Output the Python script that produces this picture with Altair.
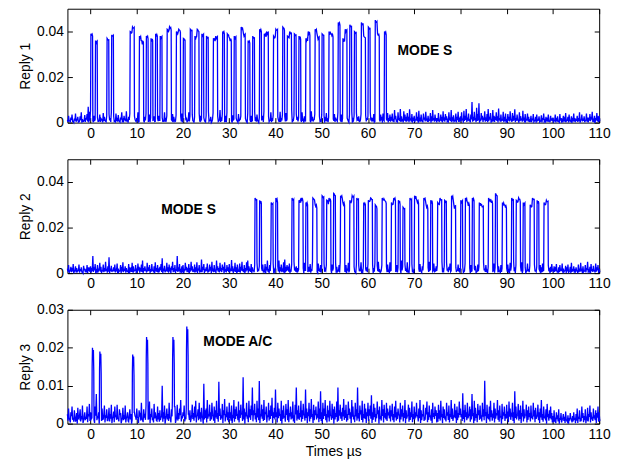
import altair as alt
import pandas as pd

# ---------------- data ----------------
T0 = -5.0        # first sample time of the noise records (µs)
DT = 0.25        # spacing of the noise samples (µs); troughs sit half way between

# baseline noise peaks, units of 1e-4, one row = 5 µs
noise1 = [
    12, 30, 8, 22, 35, 5, 18, 40, 10, 25, 3, 28, 45, 15, 6, 33, 20, 38, 70, 48,
    55, 20, 8, 30, 14, 40, 22, 5, 35, 18, 10, 42, 25, 6, 30, 12, 38, 20, 45, 15,
    28, 8, 40, 15, 33, 5, 22, 45, 12, 30, 18, 50, 10, 25, 40, 6, 35, 15, 28, 8,
    20, 45, 5, 30, 12, 55, 8, 25, 40, 15, 3, 35, 22, 48, 10, 28, 6, 42, 18, 30,
    10, 35, 22, 5, 45, 15, 30, 8, 50, 20, 12, 38, 25, 4, 33, 18, 55, 10, 28, 40,
    15, 5, 38, 22, 10, 45, 28, 12, 35, 6, 25, 50, 18, 8, 40, 30, 14, 48, 22, 5,
    30, 18, 48, 10, 25, 5, 42, 20, 12, 35, 28, 8, 55, 15, 38, 22, 5, 30, 45, 12,
    25, 40, 8, 32, 15, 50, 20, 6, 38, 12, 28, 45, 10, 35, 18, 3, 42, 25, 12, 30,
    8, 28, 45, 15, 35, 5, 22, 40, 12, 30, 50, 18, 6, 38, 25, 10, 45, 20, 32, 14,
    40, 12, 25, 5, 48, 20, 35, 10, 28, 42, 15, 6, 32, 22, 55, 12, 30, 8, 38, 18,
    22, 35, 10, 45, 18, 28, 5, 40, 15, 32, 8, 50, 25, 12, 38, 20, 6, 45, 28, 10,
    35, 8, 30, 18, 42, 12, 25, 48, 5, 28, 15, 38, 22, 10, 45, 30, 12, 35, 18, 52,
    12, 40, 20, 6, 35, 25, 48, 15, 30, 8, 42, 18, 28, 5, 38, 22, 50, 12, 32, 20,
    28, 10, 45, 22, 15, 38, 5, 30, 48, 18, 12, 35, 25, 40, 8, 30, 15, 42, 20, 35,
    25, 40, 15, 55, 30, 10, 45, 20, 60, 28, 12, 50, 35, 18, 42, 25, 58, 15, 38, 22,
    30, 12, 45, 25, 52, 15, 35, 8, 40, 22, 48, 18, 30, 10, 42, 28, 55, 20, 35, 15,
    20, 42, 10, 35, 25, 50, 15, 38, 28, 12, 45, 22, 55, 18, 32, 8, 40, 25, 48, 15,
    28, 45, 18, 52, 30, 60, 22, 40, 15, 35, 90, 25, 48, 20, 65, 38, 85, 18, 42, 30,
    22, 50, 15, 38, 60, 25, 42, 12, 55, 30, 18, 45, 28, 62, 20, 35, 10, 48, 25, 40,
    15, 38, 25, 50, 12, 42, 30, 58, 20, 35, 10, 45, 28, 15, 52, 22, 38, 12, 40, 25,
    10, 30, 18, 38, 8, 25, 35, 12, 28, 5, 32, 20, 40, 10, 25, 15, 35, 8, 30, 18,
    22, 8, 35, 15, 28, 5, 38, 20, 12, 30, 18, 42, 10, 25, 35, 8, 28, 15, 40, 20,
    12, 30, 20, 45, 10, 35, 18, 28, 8, 40, 22, 15, 38, 25, 48, 12, 30, 20, 42, 28,
    30,
]
trough1 = [
    3, 8, 1, 12, 5, 0, 9, 4, 14, 2, 7, 11, 0, 6, 10, 3, 13, 5, 1, 8,
    4, 10, 2, 7, 0, 12, 5, 9, 3, 14, 1, 6, 11, 4, 8, 0, 10, 3, 7, 12,
    6, 0, 11, 4, 9, 2, 13, 7, 1, 10, 5, 8, 0, 12, 3, 9, 6, 2, 14, 5,
    9, 3, 7, 0, 12, 6, 1, 10, 4, 8, 13, 2, 7, 0, 11, 5, 9, 3, 6, 10,
    1, 12, 5, 8, 3, 10, 0, 7, 14, 4, 9, 2, 11, 6, 0, 8, 3, 12, 5, 1,
    7, 4, 10, 1, 9, 5, 12, 3, 8, 0, 11, 6, 2, 13, 4, 9, 1, 7, 10, 3,
    11, 2, 6, 9, 0, 13, 4, 8, 1, 10, 5, 12, 3, 7, 0, 9, 6, 2, 11, 4,
    5, 9, 0, 12, 7, 3, 10, 1, 6, 14, 2, 8, 11, 4, 9, 0, 7, 13, 3, 6,
    2, 10, 7, 4, 11, 0, 8, 5, 13, 3, 9, 1, 6, 12, 4, 10, 2, 7, 0, 9,
    8, 1, 12, 6, 3, 9, 0, 11, 5, 7, 2, 13, 4, 8, 1, 10, 6, 3, 12, 5,
    4, 11, 3, 8, 0, 10, 6, 2, 12, 7, 1, 9, 5, 13, 3, 8, 0, 11, 6, 2,
    10, 5, 0, 13, 6, 2, 9, 4, 11, 1, 8, 3, 12, 6, 0, 9, 5, 2, 10, 7,
    3, 7, 12, 1, 9, 5, 0, 10, 6, 2, 13, 8, 4, 11, 1, 7, 10, 3, 5, 12,
    6, 0, 9, 4, 11, 2, 8, 13, 1, 7, 5, 10, 0, 12, 6, 3, 9, 1, 8, 4,
    9, 5, 2, 14, 7, 0, 11, 6, 3, 10, 1, 8, 12, 4, 9, 2, 13, 5, 0, 7,
    2, 12, 6, 0, 10, 4, 8, 1, 13, 5, 9, 3, 7, 11, 0, 6, 10, 4, 12, 1,
    8, 3, 11, 5, 1, 9, 4, 12, 7, 0, 10, 6, 2, 13, 5, 8, 1, 11, 3, 9,
    5, 10, 0, 7, 12, 3, 9, 6, 1, 14, 4, 8, 11, 2, 7, 10, 0, 6, 13, 3,
    11, 4, 8, 2, 6, 13, 0, 9, 5, 3, 12, 7, 1, 10, 4, 8, 11, 2, 6, 0,
    1, 9, 5, 12, 3, 7, 10, 2, 8, 11, 0, 6, 13, 4, 9, 1, 7, 12, 5, 3,
    7, 2, 10, 4, 9, 0, 6, 11, 3, 8, 1, 12, 5, 0, 10, 4, 7, 2, 9, 6,
    4, 8, 1, 11, 5, 2, 9, 0, 7, 12, 3, 6, 10, 1, 8, 5, 0, 11, 4, 7,
    10, 3, 6, 0, 12, 5, 8, 2, 11, 4, 1, 9, 6, 13, 3, 7, 0, 10, 5, 2,
    6,
]
noise2 = [
    20, 35, 10, 28, 15, 40, 8, 30, 22, 12, 38, 18, 25, 5, 32, 20, 12, 35, 25, 18,
    30, 15, 75, 25, 40, 12, 35, 20, 45, 28, 10, 38, 22, 50, 15, 30, 70, 20, 32, 12,
    25, 38, 15, 42, 20, 10, 35, 28, 48, 15, 30, 22, 8, 40, 25, 18, 45, 30, 12, 35,
    20, 42, 28, 15, 38, 55, 22, 30, 10, 45, 25, 35, 18, 40, 12, 30, 48, 22, 35, 15,
    28, 40, 65, 20, 32, 12, 45, 25, 38, 15, 30, 50, 22, 35, 18, 75, 25, 40, 12, 30,
    35, 18, 45, 28, 15, 40, 22, 50, 30, 12, 38, 25, 48, 20, 35, 10, 60, 28, 40, 18,
    25, 42, 15, 38, 28, 50, 20, 35, 12, 55, 30, 22, 45, 15, 38, 28, 48, 18, 35, 25,
    40, 20, 58, 30, 15, 45, 25, 38, 12, 42, 28, 50, 18, 35, 22, 48, 55, 30, 20, 40,
    25, 12, 35, 20, 45, 15, 30, 50, 22, 38, 10, 40, 28, 55, 18, 35, 60, 25, 42, 15,
    20, 45, 30, 55, 25, 38, 15, 48, 60, 28, 35, 20, 42, 12, 38, 25, 50, 18, 30, 22,
    15, 38, 8, 30, 22, 45, 12, 35, 5, 28, 40, 18, 50, 10, 32, 25, 6, 42, 20, 35,
    30, 10, 42, 18, 35, 5, 25, 48, 15, 38, 22, 8, 45, 28, 12, 35, 50, 20, 5, 32,
    8, 35, 20, 45, 12, 30, 52, 18, 28, 6, 40, 22, 35, 15, 48, 10, 30, 42, 18, 25,
    40, 15, 28, 8, 38, 22, 45, 12, 32, 50, 18, 5, 35, 25, 42, 10, 28, 38, 15, 48,
    12, 30, 45, 20, 5, 35, 25, 42, 15, 55, 28, 10, 38, 20, 48, 8, 32, 22, 40, 15,
    28, 45, 10, 35, 18, 40, 6, 30, 48, 22, 12, 38, 25, 50, 15, 35, 8, 42, 20, 30,
    35, 12, 40, 25, 50, 15, 32, 8, 45, 20, 28, 42, 10, 35, 18, 55, 25, 12, 38, 22,
    18, 40, 28, 6, 42, 30, 15, 48, 22, 35, 10, 45, 20, 32, 5, 38, 28, 50, 15, 30,
    45, 20, 35, 12, 28, 50, 18, 38, 8, 42, 25, 15, 48, 30, 10, 35, 22, 45, 12, 28,
    22, 38, 10, 45, 30, 15, 52, 25, 35, 8, 40, 20, 30, 48, 12, 38, 25, 5, 42, 18,
    32, 15, 45, 22, 38, 10, 28, 50, 18, 35, 25, 42, 12, 30, 48, 20, 35, 15, 28, 40,
    12, 30, 18, 40, 8, 25, 35, 15, 42, 20, 10, 32, 25, 38, 5, 28, 45, 18, 30, 12,
    25, 10, 38, 20, 45, 15, 30, 8, 35, 22, 50, 12, 28, 40, 18, 32, 10, 42, 25, 35,
    20,
]
trough2 = [
    6, 1, 10, 4, 8, 0, 12, 3, 7, 11, 2, 9, 5, 0, 13, 4, 8, 1, 10, 6,
    2, 9, 5, 12, 0, 7, 3, 11, 6, 1, 10, 4, 8, 13, 2, 6, 0, 9, 5, 11,
    8, 3, 12, 0, 6, 10, 1, 7, 4, 13, 2, 9, 5, 0, 11, 6, 3, 8, 12, 1,
    4, 11, 2, 8, 5, 0, 9, 13, 3, 7, 10, 1, 6, 12, 4, 0, 8, 5, 2, 10,
    12, 5, 0, 9, 3, 11, 6, 2, 8, 0, 13, 4, 7, 1, 10, 5, 9, 2, 6, 3,
    0, 8, 13, 4, 10, 1, 7, 12, 5, 9, 3, 6, 0, 11, 2, 8, 4, 13, 1, 7,
    9, 2, 6, 11, 0, 8, 4, 10, 1, 12, 6, 3, 9, 5, 13, 0, 7, 3, 10, 5,
    3, 10, 7, 1, 12, 5, 0, 9, 6, 2, 11, 8, 4, 0, 7, 12, 2, 9, 5, 1,
    11, 4, 0, 8, 6, 13, 2, 5, 10, 3, 7, 0, 12, 6, 1, 9, 4, 11, 0, 8,
    5, 12, 7, 2, 9, 4, 11, 0, 3, 8, 13, 6, 1, 10, 5, 2, 12, 7, 3, 9,
    1, 7, 10, 5, 0, 12, 3, 8, 11, 6, 2, 9, 4, 0, 13, 7, 1, 10, 5, 2,
    10, 3, 6, 12, 8, 1, 9, 4, 0, 11, 5, 13, 2, 7, 10, 3, 8, 0, 12, 6,
    7, 0, 11, 3, 5, 9, 2, 13, 6, 1, 10, 4, 8, 12, 0, 5, 11, 2, 9, 4,
    2, 9, 4, 10, 1, 6, 12, 0, 8, 5, 3, 11, 7, 1, 9, 13, 4, 6, 0, 10,
    13, 6, 1, 7, 11, 3, 8, 5, 0, 12, 9, 2, 10, 4, 6, 1, 11, 8, 3, 0,
    4, 11, 8, 0, 6, 10, 2, 12, 7, 3, 0, 9, 5, 13, 1, 8, 12, 3, 6, 10,
    8, 1, 12, 5, 3, 9, 0, 7, 11, 4, 13, 6, 2, 8, 10, 0, 5, 12, 7, 2,
    0, 10, 3, 9, 13, 2, 6, 11, 1, 8, 5, 0, 12, 3, 7, 9, 2, 4, 11, 6,
    12, 5, 9, 1, 7, 0, 11, 4, 10, 2, 6, 13, 3, 9, 0, 5, 10, 7, 1, 8,
    6, 2, 0, 11, 4, 12, 8, 1, 5, 9, 13, 3, 7, 0, 10, 6, 2, 11, 8, 4,
    9, 13, 5, 2, 10, 6, 1, 8, 12, 0, 4, 10, 1, 6, 3, 11, 8, 0, 5, 12,
    3, 6, 10, 7, 0, 4, 12, 9, 2, 5, 11, 1, 8, 3, 12, 0, 6, 9, 2, 7,
    10, 0, 4, 8, 12, 1, 5, 10, 3, 13, 7, 2, 0, 9, 5, 11, 3, 6, 12, 1,
    5,
]
noise3 = [
    25, 40, 10, 30, 45, 15, 35, 5, 28, 42, 12, 38, 20, 48, 8, 30, 18, 45, 25, 52,
    30, 15, 35, 10, 45, 78, 20, 30, 5, 35, 40, 12, 48, 22, 38, 8, 42, 25, 50, 15,
    32, 45, 20, 50, 12, 38, 28, 8, 42, 22, 48, 15, 30, 5, 38, 25, 10, 45, 30, 18,
    40, 15, 35, 25, 55, 10, 38, 22, 48, 30, 12, 58, 25, 40, 15, 52, 30, 8, 45, 28,
    35, 18, 100, 30, 48, 12, 40, 25, 55, 15, 38, 60, 22, 45, 10, 50, 28, 40, 62, 20,
    30, 48, 15, 40, 58, 25, 35, 12, 50, 28, 45, 60, 20, 38, 55, 30, 42, 15, 105, 35,
    40, 62, 25, 50, 30, 55, 18, 45, 35, 60, 28, 110, 40, 22, 52, 35, 65, 25, 45, 30,
    55, 30, 48, 20, 62, 38, 45, 25, 58, 35, 50, 28, 122, 40, 30, 55, 22, 60, 38, 48,
    95, 35, 52, 28, 60, 40, 112, 25, 50, 38, 62, 30, 45, 22, 55, 35, 48, 68, 30, 42,
    90, 30, 55, 40, 25, 60, 35, 48, 20, 52, 38, 62, 28, 45, 30, 58, 22, 50, 95, 35,
    48, 28, 60, 35, 52, 22, 90, 40, 30, 55, 38, 65, 25, 50, 35, 45, 20, 58, 40, 85,
    30, 55, 40, 62, 25, 48, 35, 60, 20, 52, 38, 45, 28, 58, 95, 35, 50, 30, 42, 65,
    35, 50, 25, 58, 40, 30, 62, 45, 22, 55, 38, 95, 28, 48, 35, 60, 25, 52, 40, 30,
    55, 38, 48, 75, 30, 52, 42, 25, 58, 35, 45, 20, 62, 38, 50, 28, 55, 40, 30, 48,
    35, 52, 25, 45, 60, 30, 40, 22, 55, 38, 48, 28, 62, 35, 20, 50, 42, 30, 58, 25,
    45, 30, 55, 20, 40, 62, 35, 25, 50, 15, 42, 58, 30, 48, 22, 38, 55, 28, 45, 35,
    28, 50, 35, 60, 22, 45, 38, 15, 55, 30, 48, 25, 62, 40, 20, 52, 35, 45, 28, 58,
    40, 25, 80, 35, 50, 30, 55, 20, 45, 38, 78, 28, 60, 42, 25, 52, 35, 48, 22, 55,
    38, 113, 30, 50, 25, 45, 60, 35, 22, 55, 40, 28, 62, 35, 48, 20, 52, 30, 45, 25,
    50, 32, 58, 40, 25, 55, 30, 85, 45, 20, 52, 35, 48, 28, 60, 38, 22, 50, 35, 45,
    28, 48, 20, 55, 35, 42, 18, 50, 30, 40, 62, 25, 45, 15, 38, 52, 22, 35, 45, 28,
    20, 35, 12, 30, 22, 38, 15, 28, 10, 25, 18, 32, 8, 22, 15, 28, 12, 20, 30, 15,
    25, 40, 18, 35, 12, 45, 28, 20, 38, 15, 42, 25, 48, 30, 18, 40, 22, 35, 28, 45,
    30,
]
trough3 = [
    8, 15, 3, 20, 10, 5, 18, 12, 0, 14, 22, 6, 11, 2, 17, 9, 13, 4, 19, 7,
    12, 5, 16, 2, 21, 9, 14, 0, 18, 7, 11, 24, 3, 15, 8, 20, 6, 13, 1, 17,
    4, 19, 10, 14, 6, 23, 1, 16, 9, 12, 3, 18, 7, 21, 11, 0, 15, 5, 20, 10,
    16, 2, 22, 8, 12, 4, 19, 10, 6, 25, 13, 1, 17, 9, 3, 14, 20, 7, 11, 5,
    9, 18, 5, 13, 0, 21, 11, 7, 15, 3, 19, 10, 24, 2, 16, 8, 12, 22, 6, 14,
    20, 6, 14, 1, 17, 10, 4, 23, 12, 8, 16, 3, 21, 9, 13, 5, 18, 0, 11, 15,
    3, 13, 19, 7, 11, 25, 8, 2, 16, 12, 5, 20, 10, 14, 1, 22, 6, 17, 9, 4,
    14, 8, 1, 18, 5, 12, 21, 9, 3, 15, 24, 7, 11, 0, 19, 13, 4, 16, 10, 22,
    6, 22, 11, 4, 16, 9, 2, 19, 13, 7, 10, 25, 3, 17, 8, 12, 20, 1, 15, 11,
    18, 3, 14, 21, 7, 0, 12, 16, 5, 23, 9, 4, 19, 11, 14, 6, 2, 24, 8, 13,
    10, 17, 5, 12, 24, 8, 15, 1, 20, 6, 13, 18, 2, 9, 22, 11, 16, 4, 12, 7,
    2, 12, 20, 9, 3, 16, 6, 22, 10, 14, 0, 11, 18, 5, 8, 21, 13, 7, 19, 10,
    15, 5, 9, 23, 13, 1, 18, 11, 4, 19, 8, 14, 6, 24, 10, 3, 15, 12, 2, 20,
    7, 21, 13, 2, 10, 17, 5, 14, 25, 0, 12, 8, 20, 3, 16, 11, 7, 22, 14, 6,
    19, 9, 4, 16, 8, 12, 23, 3, 11, 18, 6, 15, 1, 13, 21, 5, 10, 17, 4, 12,
    11, 16, 22, 6, 14, 2, 9, 19, 7, 13, 24, 4, 10, 17, 8, 1, 18, 12, 20, 3,
    5, 13, 8, 20, 1, 15, 11, 6, 21, 10, 3, 17, 12, 7, 19, 14, 2, 9, 16, 23,
    17, 7, 12, 3, 18, 9, 14, 24, 5, 11, 20, 1, 8, 15, 4, 22, 10, 13, 6, 18,
    9, 20, 2, 14, 11, 6, 17, 8, 19, 3, 13, 22, 10, 5, 16, 0, 12, 21, 7, 14,
    13, 4, 18, 10, 22, 7, 1, 15, 11, 25, 8, 12, 2, 19, 6, 14, 23, 3, 10, 17,
    6, 15, 11, 19, 4, 13, 21, 9, 2, 16, 10, 5, 18, 12, 0, 20, 8, 14, 11, 3,
    4, 9, 1, 12, 6, 0, 10, 3, 14, 7, 2, 11, 5, 0, 8, 13, 3, 6, 10, 1,
    8, 2, 13, 5, 10, 15, 4, 9, 1, 12, 6, 18, 3, 11, 7, 14, 9, 2, 16, 5,
    7,
]

# Reply 1: Mode S preamble pulses and 56 data bits (PPM, 1 µs per bit)
pre1_t = [0.0, 1.0, 3.5, 4.5]
pre1_a = [390, 360, 370, 385]
bits1_start = 8.0
bits1 = "01011111" "01011001" "11010011" "01110010" "10011101" "01101001" "11011010"
amps1 = [
    400, 420, 380, 360, 380, 370, 390, 380,
    410, 420, 400, 410, 370, 410, 380, 410,
    390, 380, 370, 380, 400, 390, 370, 380,
    420, 390, 360, 380, 410, 390, 400, 380,
    410, 420, 380, 400, 390, 380, 370, 400,
    410, 380, 390, 400, 390, 440, 370, 410,
    430, 400, 440, 380, 420, 450, 390, 400,
]

# Reply 2
pre2_t = [35.5, 36.5, 39.0, 40.0]
pre2_a = [330, 320, 310, 330]
bits2_start = 43.5
bits2 = "10110100" "11010110" "01101011" "10010110" "11010011" "01011010" "01101101"
amps2 = [
    330, 320, 330, 310, 330, 300, 340, 320,
    330, 350, 340, 310, 320, 340, 330, 310,
    320, 330, 300, 330, 320, 310, 330, 320,
    290, 330, 340, 320, 330, 300, 320, 310,
    330, 320, 340, 300, 320, 330, 310, 330,
    310, 300, 330, 320, 350, 310, 300, 330,
    320, 330, 310, 300, 330, 320, 310, 320,
]

# Reply 3: Mode A/C pulses
ac_t = [0.3, 1.9, 9.0, 12.0, 17.7, 20.7]
ac_a = [200, 190, 182, 228, 228, 256]
AC_W = 0.45

# annotations
ann1_label, ann1_x, ann1_y = ["MODE S"], [66.4], [0.0315]
ann2_label, ann2_x, ann2_y = ["MODE S"], [15.3], [0.0278]
ann3_label, ann3_x, ann3_y = ["MODE A/C"], [24.4], [0.0214]

X_TICKS = list(range(0, 111, 10))
Y_TICKS_S = [0, 0.02, 0.04]
Y_TICKS_AC = [0, 0.01, 0.02, 0.03]

# ---------------- build waveforms from the lists ----------------
def idx(t, n):
    return min(max(int(round((t - T0) / DT)), 0), n - 1)


def base_points(noise, trough, inside):
    pts = []
    for i, v in enumerate(noise):
        t = T0 + DT * i
        if not inside(t):
            pts.append((t, v))
        if i < len(trough):
            tt = t + DT / 2
            if not inside(tt):
                pts.append((tt, trough[i]))
    return pts


def mode_s_groups(pre_t, pre_a, start, bits, amps):
    pulses = [(t, t + 0.5, a) for t, a in zip(pre_t, pre_a)]
    for k, (b, a) in enumerate(zip(bits, amps)):
        s = start + k + (0.0 if b == "1" else 0.5)
        pulses.append((s, s + 0.5, a))
    pulses.sort()
    groups = []
    for p in pulses:
        if groups and abs(groups[-1][-1][1] - p[0]) < 1e-9:
            groups[-1].append(p)
        else:
            groups.append([p])
    return groups


def mode_s_wave(noise, trough, groups):
    n = len(noise)
    spans = [(g[0][0], g[-1][1]) for g in groups]
    pts = base_points(noise, trough,
                      lambda t: any(s - 1e-9 <= t <= e + 1e-9 for s, e in spans))
    for g in groups:
        s0, e_n = g[0][0], g[-1][1]
        pts.append((s0, noise[idx(s0, n)]))
        for s, e, a in g:
            j = idx(s, n)
            pts.append((s + 0.08, a))
            pts.append((s + 0.2, a - 0.3 * noise[min(j + 1, n - 1)]))
            pts.append((s + 0.34, a - 0.2 * noise[min(j + 2, n - 1)]))
            pts.append((e - 0.06, a - 0.35 * noise[min(j + 3, n - 1)]))
        pts.append((e_n, noise[idx(e_n, n)]))
    pts.sort()
    return pd.DataFrame({"t": [p[0] for p in pts], "y": [p[1] * 1e-4 for p in pts]})


def ac_wave(noise, trough, times, amps, w):
    n = len(noise)
    pts = base_points(noise, trough, lambda t: any(s <= t <= s + w for s in times))
    for s, a in zip(times, amps):
        pts += [(s, noise[idx(s, n)]), (s + 0.05, 0.75 * a), (s + 0.12, a),
                (s + 0.22, 0.86 * a), (s + 0.32, 0.97 * a), (s + 0.4, 0.7 * a),
                (s + w, noise[idx(s + w, n)])]
    pts.sort()
    return pd.DataFrame({"t": [p[0] for p in pts], "y": [p[1] * 1e-4 for p in pts]})


df1 = mode_s_wave(noise1, trough1, mode_s_groups(pre1_t, pre1_a, bits1_start, bits1, amps1))
df2 = mode_s_wave(noise2, trough2, mode_s_groups(pre2_t, pre2_a, bits2_start, bits2, amps2))
df3 = ac_wave(noise3, trough3, ac_t, ac_a, AC_W)

FONT = "Liberation Sans"
W, H = 537, 115


def panel(df, ymax, yticks, ytitle, xtitle, labels, xs_, ys_):
    xs = alt.Scale(domain=[-5, 110], nice=False, zero=False)
    ys = alt.Scale(domain=[0, ymax], nice=False, zero=False)
    common = dict(offset=-5, tickSize=5, domain=False, grid=False,
                  labelOverlap=False, labelFlush=False)
    x_axis = alt.Axis(values=X_TICKS, labelPadding=4, title=xtitle, titlePadding=3, **common)
    y_axis = alt.Axis(values=yticks, format="~g", labelPadding=4, title=ytitle,
                      titlePadding=4, **common)
    base = alt.Chart(df)
    main = base.mark_line(color="#0000ff", strokeWidth=1.3).encode(
        x=alt.X("t:Q", scale=xs, axis=x_axis),
        y=alt.Y("y:Q", scale=ys, axis=y_axis),
    )
    ghost = base.mark_line(strokeOpacity=0).encode(
        x=alt.X("t:Q", scale=xs, axis=alt.Axis(orient="top", values=X_TICKS, labels=False,
                                                title=None, **common)),
        y=alt.Y("y:Q", scale=ys, axis=alt.Axis(orient="right", values=yticks, labels=False,
                                                title=None, **common)),
    )
    ann = pd.DataFrame({"label": labels, "x": xs_, "y": ys_})
    txt = alt.Chart(ann).mark_text(align="left", baseline="middle", font=FONT, fontSize=14,
                                   fontWeight="bold", color="black").encode(
        x=alt.X("x:Q", scale=xs, axis=None),
        y=alt.Y("y:Q", scale=ys, axis=None),
        text="label:N",
    )
    return alt.layer(main, ghost, txt).resolve_axis(x="independent", y="independent").properties(
        width=W, height=H)


p1 = panel(df1, 0.05, Y_TICKS_S, "Reply 1", None, ann1_label, ann1_x, ann1_y)
p2 = panel(df2, 0.05, Y_TICKS_S, "Reply 2", None, ann2_label, ann2_x, ann2_y)
p3 = panel(df3, 0.03, Y_TICKS_AC, "Reply 3", "Times µs", ann3_label, ann3_x, ann3_y)

chart = (
    alt.vconcat(p1, p2, p3, spacing=37, bounds="flush")
    .properties(padding={"left": 10, "top": -2.5, "right": 5, "bottom": 0})
    .configure(font=FONT)
    .configure_axis(labelFont=FONT, titleFont=FONT, labelFontSize=14, titleFontSize=14,
                    labelColor="black", titleColor="black", tickColor="black", tickWidth=1,
                    titleFontWeight="normal")
    .configure_view(stroke="black", strokeWidth=1)
)

chart.save("out.html", embed_options={"renderer": "svg", "actions": False})
